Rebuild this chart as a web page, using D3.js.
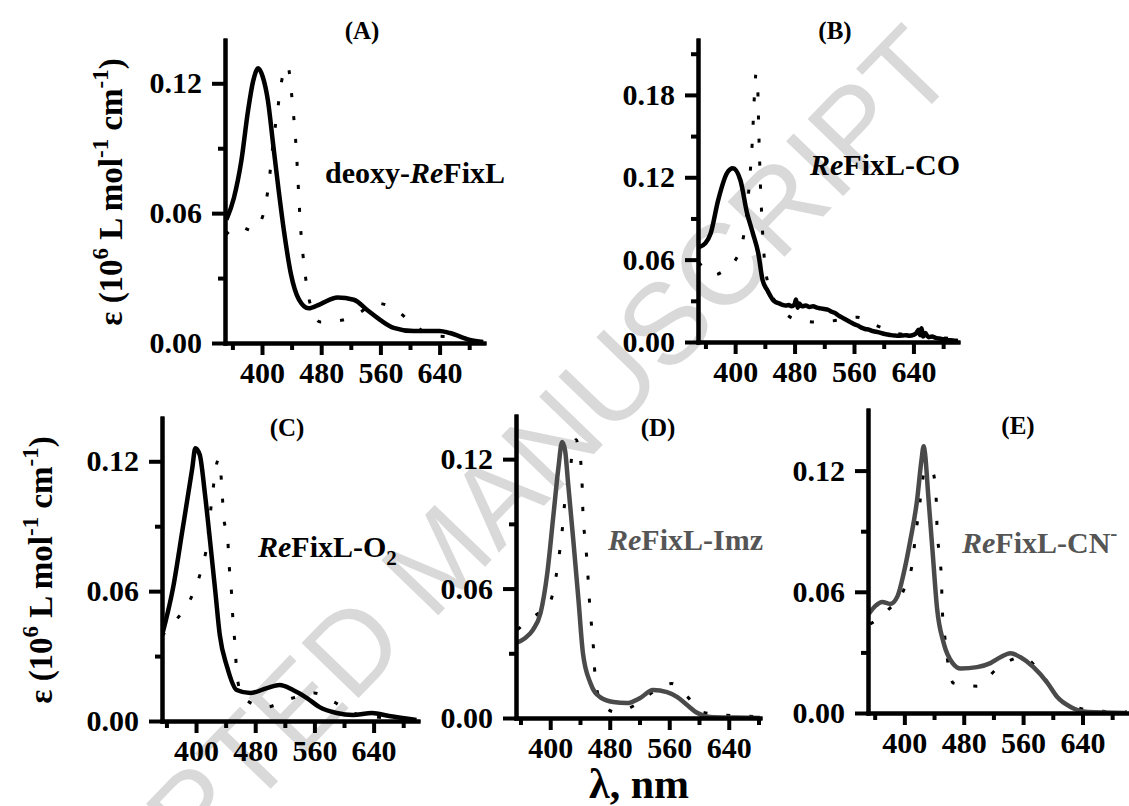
<!DOCTYPE html>
<meta charset="utf-8">
<head>
  <title>ReFixL absorption spectra</title>
</head>

<style>
body {
  margin: 0;
  background: #fff;
}
svg text {
  font-family: "Liberation Serif", "Times New Roman", serif;
  font-weight: bold;
}
</style>

<body>
  <svg width="1129" height="806"></svg>

  <script src="https://cdnjs.cloudflare.com/ajax/libs/d3/7.8.5/d3.min.js"></script>

  <script>
// ---- data: [wavelength nm, epsilon 10^6 L/mol/cm] ----
var aSolid = [[352,0.057],[362,0.067],[372,0.084],[381,0.107],[388,0.121],[395,0.127],[401,0.123],[408,0.112],[415,0.092],[422,0.072],[430,0.051],[439,0.032],[450,0.020],[463,0.016],[479,0.018],[502,0.021],[524,0.020],[543,0.015],[560,0.0106],[578,0.007],[605,0.0055],[628,0.0055],[640,0.0056],[654,0.0046],[681,0.0014],[699,0.0005]];
var aDot = [[351,0.050],[368,0.054],[387,0.052],[401,0.0586],[408,0.0706],[416,0.095],[421,0.1075],[426,0.12],[431,0.127],[435,0.128],[438,0.122],[440,0.115],[443,0.104],[446,0.091],[448,0.079],[450,0.066],[452,0.054],[455,0.042],[459,0.030],[466,0.017],[479,0.0097],[509,0.0106],[531,0.0138],[553,0.0185],[578,0.016],[601,0.0097],[628,0.0037],[654,0.0028],[680,0.002],[700,0.001]];

var bSolid = [[351,0.069],[360,0.072],[367,0.079],[377,0.103],[389,0.123],[397,0.1265],[407,0.118],[416,0.094],[424,0.079],[431,0.065],[437,0.045],[443,0.038],[447,0.034],[451,0.0305],[455,0.029],[460,0.028],[464,0.027],[468,0.0265],[472,0.027],[476,0.026],[480,0.0275],[482,0.031],[484,0.025],[486,0.028],[490,0.026],[495,0.0265],[500,0.0255],[505,0.026],[510,0.025],[515,0.0245],[520,0.024],[525,0.0235],[530,0.022],[535,0.021],[540,0.019],[545,0.0175],[550,0.016],[555,0.0145],[560,0.013],[565,0.012],[570,0.0105],[575,0.0095],[580,0.009],[585,0.008],[590,0.0075],[595,0.0068],[600,0.006],[605,0.0055],[610,0.005],[615,0.0047],[620,0.0045],[625,0.0047],[630,0.005],[635,0.0045],[640,0.0052],[644,0.0065],[647,0.009],[649,0.005],[651,0.01],[653,0.004],[656,0.0065],[660,0.0035],[665,0.004],[670,0.003],[675,0.0025],[680,0.002],[685,0.0015],[690,0.0012],[695,0.001],[700,0.0008]];
var bDot = [[351,0.058],[362,0.052],[373,0.049],[385,0.052],[397,0.057],[411,0.076],[416,0.095],[419,0.115],[423,0.145],[426,0.18],[428,0.195],[430,0.19],[432,0.15],[434,0.115],[436,0.09],[438,0.07],[440,0.057],[447,0.038],[464,0.023],[484,0.016],[512,0.0145],[540,0.016],[564,0.018],[590,0.012],[620,0.006],[660,0.004],[700,0.002]];

var cSolid = [[354,0.0395],[369,0.0616],[382,0.089],[395,0.117],[399,0.126],[405,0.123],[412,0.105],[419,0.083],[426,0.060],[432,0.040],[442,0.025],[455,0.0143],[473,0.0129],[496,0.0152],[513,0.0166],[531,0.0143],[550,0.0106],[567,0.0064],[590,0.0037],[612,0.0028],[638,0.0037],[661,0.0023],[698,0.0005]];
var cDot = [[354,0.0395],[374,0.047],[396,0.059],[408,0.071],[415,0.082],[419,0.095],[423,0.107],[428,0.119],[431,0.121],[435,0.1076],[437,0.0956],[443,0.083],[445,0.071],[448,0.059],[450,0.046],[453,0.034],[455,0.022],[463,0.011],[494,0.0064],[525,0.010],[560,0.0129],[587,0.0087],[610,0.004],[640,0.002],[670,0.001],[700,0.0005]];

var dSolid = [[354,0.0348],[366,0.037],[377,0.041],[387,0.0487],[396,0.067],[404,0.093],[411,0.116],[416,0.128],[420,0.124],[424,0.109],[431,0.0825],[438,0.0547],[444,0.030],[454,0.0162],[467,0.0097],[485,0.0074],[503,0.0069],[521,0.0093],[538,0.013],[557,0.012],[571,0.0097],[584,0.006],[598,0.0023],[615,0.0005],[650,0.0002],[682,0]];
var dDot = [[356,0.041],[378,0.047],[400,0.054],[408,0.066],[413,0.078],[417,0.090],[420,0.102],[427,0.115],[431,0.127],[435,0.129],[438,0.125],[441,0.119],[443,0.107],[444,0.095],[447,0.0825],[450,0.070],[452,0.058],[455,0.045],[458,0.033],[460,0.021],[466,0.0093],[487,0.0028],[514,0.006],[538,0.012],[563,0.016],[584,0.010],[604,0.0028],[631,0.0014],[659,0.001],[682,0.0005]];

var eSolid = [[352,0.049],[361,0.053],[370,0.055],[381,0.054],[391,0.058],[399,0.069],[408,0.0854],[417,0.105],[423,0.125],[426,0.132],[428,0.128],[432,0.1086],[438,0.080],[444,0.052],[453,0.0346],[465,0.0247],[476,0.022],[498,0.0227],[516,0.0247],[530,0.0277],[543,0.0296],[556,0.0277],[574,0.0227],[593,0.0148],[606,0.0079],[624,0.003],[647,0.0005],[700,0]];
var eDot = [[354,0.044],[378,0.051],[400,0.0617],[411,0.0746],[415,0.088],[420,0.101],[424,0.114],[429,0.121],[433,0.121],[439,0.1185],[443,0.105],[444,0.092],[447,0.079],[450,0.066],[451,0.052],[454,0.0395],[458,0.0267],[466,0.0148],[498,0.0133],[525,0.022],[559,0.0277],[586,0.0188],[606,0.008],[630,0.003],[660,0.001],[700,0.0005]];

var xMajor = [400, 480, 560, 640];
var xMinor = [360, 440, 520, 600, 680];
var yMajor = [0, 0.06, 0.12];
var yMinor = [0.03, 0.09];
var yMajorB = [0, 0.06, 0.12, 0.18];
var yMinorB = [0.03, 0.09, 0.15, 0.21];

var panels = [
  {id: '(A)', solid: aSolid, dot: aDot, left: 225, right: 484, top: 40, bottom: 343, xDomain: [350, 700], yMax: 0.14,
   yMajor: yMajor, yMinor: yMinor, color: '#000', titleX: 362, titleY: 39,
   label: [['deoxy-', 'normal'], ['Re', 'italic'], ['FixL', 'normal']], labelX: 325, labelY: 183, labelColor: '#000'},
  {id: '(B)', solid: bSolid, dot: bDot, left: 698, right: 958, top: 40, bottom: 342, xDomain: [350, 700], yMax: 0.22,
   yMajor: yMajorB, yMinor: yMinorB, color: '#000', titleX: 835, titleY: 39,
   label: [['Re', 'italic'], ['FixL-CO', 'normal']], labelX: 810, labelY: 175, labelColor: '#000'},
  {id: '(C)', solid: cSolid, dot: cDot, left: 162, right: 418, top: 418, bottom: 721, xDomain: [354, 700], yMax: 0.14,
   yMajor: yMajor, yMinor: yMinor, color: '#000', titleX: 287, titleY: 436,
   label: [['Re', 'italic'], ['FixL-O', 'normal'], ['2', 'sub']], labelX: 258, labelY: 557, labelColor: '#000'},
  {id: '(D)', solid: dSolid, dot: dDot, left: 516, right: 760, top: 416, bottom: 718, xDomain: [354, 682], yMax: 0.14,
   yMajor: yMajor, yMinor: yMinor, color: '#4a4a4a', titleX: 658, titleY: 436,
   label: [['Re', 'italic'], ['FixL-Imz', 'normal']], labelX: 608, labelY: 550, labelColor: '#555'},
  {id: '(E)', solid: eSolid, dot: eDot, left: 868, right: 1127, top: 410, bottom: 713, xDomain: [351, 700], yMax: 0.15,
   yMajor: yMajor, yMinor: yMinor, color: '#4a4a4a', titleX: 1018, titleY: 434,
   label: [['Re', 'italic'], ['FixL-CN', 'normal'], ['-', 'sup']], labelX: 962, labelY: 553, labelColor: '#555'}
];

var svg = d3.select('svg');

// watermark behind everything
svg.append('text')
  .attr('transform', 'translate(960,75) rotate(-46)')
  .attr('text-anchor', 'end')
  .style('font-family', '"Liberation Sans", Arial, sans-serif')
  .style('font-weight', 'normal')
  .style('font-size', '115px')
  .attr('fill', '#d9d9d9')
  .text('ACCEPTED MANUSCRIPT');

function styleAxis(sel) {
  sel.selectAll('line').attr('stroke', '#000').attr('stroke-width', 4);
  sel.selectAll('path.domain').attr('stroke', '#000').attr('stroke-width', 4).attr('stroke-linecap', 'square');
  sel.selectAll('text').attr('fill', '#000').style('font-size', '30px');
}

function drawPanel(p, i) {
  var x = d3.scaleLinear().domain(p.xDomain).range([p.left, p.right]);
  var y = d3.scaleLinear().domain([0, p.yMax]).range([p.bottom, p.top]);
  var g = svg.append('g');

  // curves
  var clipId = 'clip' + i;
  g.append('clipPath').attr('id', clipId)
    .append('rect').attr('x', p.left).attr('y', p.top - 30)
    .attr('width', p.right - p.left + 2).attr('height', p.bottom - p.top + 30);

  var line = d3.line()
    .x(function(d) { return x(d[0]); })
    .y(function(d) { return y(d[1]); })
    .curve(d3.curveMonotoneX);

  g.append('path').datum(p.dot)
    .attr('clip-path', 'url(#' + clipId + ')')
    .attr('d', line)
    .attr('fill', 'none')
    .attr('stroke', '#000')
    .attr('stroke-width', 3)
    .attr('stroke-dasharray', '4,19');

  g.append('path').datum(p.solid)
    .attr('clip-path', 'url(#' + clipId + ')')
    .attr('d', line)
    .attr('fill', 'none')
    .attr('stroke', p.color)
    .attr('stroke-width', 4.5)
    .attr('stroke-linejoin', 'round');

  // minor ticks
  g.append('g').attr('transform', 'translate(0,' + p.bottom + ')')
    .call(d3.axisBottom(x).tickValues(xMinor.filter(function(v) { return v <= p.xDomain[1]; }))
      .tickSize(7).tickSizeOuter(0).tickFormat(''))
    .call(styleAxis);
  g.append('g').attr('transform', 'translate(' + p.left + ',0)')
    .call(d3.axisLeft(y).tickValues(p.yMinor).tickSize(7).tickSizeOuter(0).tickFormat(''))
    .call(styleAxis);

  // major ticks + labels
  g.append('g').attr('transform', 'translate(0,' + p.bottom + ')')
    .call(d3.axisBottom(x).tickValues(xMajor).tickSize(12).tickSizeOuter(0).tickPadding(7).tickFormat(d3.format('d')))
    .call(styleAxis);
  g.append('g').attr('transform', 'translate(' + p.left + ',0)')
    .call(d3.axisLeft(y).tickValues(p.yMajor).tickSize(13).tickSizeOuter(0).tickPadding(10).tickFormat(d3.format('.2f')))
    .call(styleAxis);

  // panel title
  g.append('text').attr('x', p.titleX).attr('y', p.titleY)
    .attr('text-anchor', 'middle').style('font-size', '25px').text(p.id);

  // sample label
  var t = g.append('text').attr('x', p.labelX).attr('y', p.labelY)
    .attr('fill', p.labelColor).style('font-size', '30px');
  p.label.forEach(function(part) {
    var s = t.append('tspan').text(part[0]);
    if (part[1] === 'italic') s.style('font-style', 'italic');
    if (part[1] === 'sub') s.attr('dy', 8).style('font-size', '21px');
    if (part[1] === 'sup') s.attr('dy', -13).style('font-size', '21px');
  });
}

panels.forEach(drawPanel);

// y axis labels
function yLabel(cx, cy) {
  var t = svg.append('text')
    .attr('transform', 'translate(' + cx + ',' + cy + ') rotate(-90)')
    .attr('text-anchor', 'middle')
    .style('font-size', '33px');
  t.append('tspan').text('\u03b5 (10');
  t.append('tspan').attr('dy', -14).style('font-size', '23px').text('6');
  t.append('tspan').attr('dy', 14).text(' L mol');
  t.append('tspan').attr('dy', -14).style('font-size', '23px').text('-1');
  t.append('tspan').attr('dy', 14).text(' cm');
  t.append('tspan').attr('dy', -14).style('font-size', '23px').text('-1');
  t.append('tspan').attr('dy', 14).text(')');
}
yLabel(122, 192);
yLabel(52, 570);

svg.append('text').attr('x', 639).attr('y', 798)
  .attr('text-anchor', 'middle').style('font-size', '42px')
  .text('\u03bb, nm');
  </script>
</body>
</html>
